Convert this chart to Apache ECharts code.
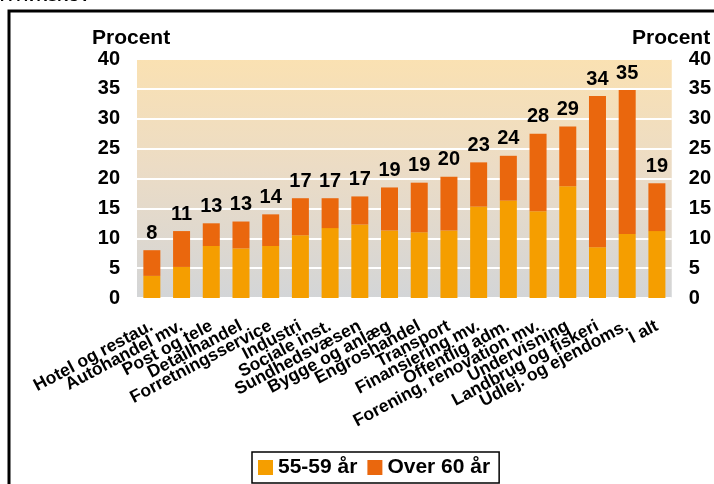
<!DOCTYPE html>
<html>
<head>
<meta charset="utf-8">
<script src="https://cdn.jsdelivr.net/npm/echarts@6/dist/echarts.min.js"></script>
<style>
  html, body { margin: 0; padding: 0; background: #fff; }
  #main { width: 714px; height: 484px; }
</style>
</head>
<body>
<div id="main"></div>
<script>
// brancher
var categories = ['Hotel og restau.', 'Autohandel mv.', 'Post og tele', 'Detailhandel',
  'Forretningsservice', 'Industri', 'Sociale inst.', 'Sundhedsvæsen', 'Bygge og anlæg',
  'Engroshandel', 'Transport', 'Finansiering mv.', 'Offentlig adm.',
  'Forening, renovation mv.', 'Undervisning', 'Landbrug og fiskeri',
  'Udlej. og ejendoms.', 'I alt'];
// andel 55-59 år
var age5559 = [3.7, 5.2, 8.7, 8.3, 8.7, 10.5, 11.7, 12.3, 11.3, 11.0, 11.3, 15.3, 16.3, 14.5, 18.7, 8.5, 10.7, 11.2];
// andel over 60 år
var over60 = [4.3, 6.0, 3.8, 4.5, 5.3, 6.2, 5.0, 4.7, 7.2, 8.3, 9.0, 7.4, 7.5, 13.0, 10.0, 25.3, 24.1, 8.0];
// tal over søjlerne
var totals = [8, 11, 13, 13, 14, 17, 17, 17, 19, 19, 20, 23, 24, 28, 29, 34, 35, 19];
var yTicks = [0, 40, 5];

var font = '"Liberation Sans", Arial, sans-serif';
var chart = echarts.init(document.getElementById('main'));

var yAxisBase = {
  type: 'value',
  min: yTicks[0],
  max: yTicks[1],
  interval: yTicks[2],
  axisLine: { show: false },
  axisTick: { show: false },
  splitLine: { lineStyle: { color: '#ffffff', width: 2 } },
  axisLabel: { color: '#000', fontSize: 20, fontWeight: 'bold', fontFamily: font, margin: 17 }
};

chart.setOption({
  animation: false,
  textStyle: { fontFamily: font },
  graphic: [
    { type: 'rect', shape: { x: 9, y: 11, width: 800, height: 600 },
      style: { fill: 'none', stroke: '#000', lineWidth: 3 } },
    { type: 'text', left: 0, top: -11,
      style: { text: 'I FAVRSKOV', font: 'bold 15px ' + font, fill: '#000' } },
    { type: 'text', left: 92, top: 28,
      style: { text: 'Procent', font: 'bold 21px ' + font, fill: '#000' } },
    { type: 'text', left: 632, top: 28,
      style: { text: 'Procent', font: 'bold 21px ' + font, fill: '#000' } }
  ],
  grid: {
    left: 137, right: 40, top: 59, bottom: 186,
    show: true,
    borderWidth: 0,
    backgroundColor: new echarts.graphic.LinearGradient(0, 0, 0, 1, [
      { offset: 0, color: '#fae1b2' },
      { offset: 0.45, color: '#ecdcc5' },
      { offset: 1, color: '#d3d5d7' }
    ])
  },
  legend: {
    bottom: 1,
    left: 252,
    icon: 'rect',
    itemWidth: 15,
    itemHeight: 15,
    itemGap: 10,
    padding: [5, 9, 5, 6],
    borderColor: '#000',
    borderWidth: 1.5,
    textStyle: { color: '#000', fontSize: 21, fontWeight: 'bold', fontFamily: font },
    data: ['55-59 år', 'Over 60 år']
  },
  xAxis: {
    type: 'category',
    data: categories,
    axisLine: { show: false },
    axisTick: { show: false },
    axisLabel: {
      interval: 0,
      rotate: 28,
      margin: 27,
      color: '#000',
      fontSize: 17.5,
      fontWeight: 'bold',
      fontFamily: font
    }
  },
  yAxis: [
    Object.assign({}, yAxisBase, { position: 'left' }),
    Object.assign({}, yAxisBase, { position: 'right', splitLine: { show: false } })
  ],
  series: [
    {
      name: '55-59 år',
      type: 'bar',
      stack: 'total',
      barWidth: 17,
      itemStyle: { color: '#f59e00' },
      data: age5559
    },
    {
      name: 'Over 60 år',
      type: 'bar',
      stack: 'total',
      barWidth: 17,
      itemStyle: { color: '#ea670d' },
      label: {
        show: true,
        position: 'top',
        distance: 7,
        color: '#000',
        fontSize: 20,
        fontWeight: 'bold',
        fontFamily: font,
        formatter: function (p) { return totals[p.dataIndex]; }
      },
      data: over60
    }
  ]
});
</script>
</body>
</html>
